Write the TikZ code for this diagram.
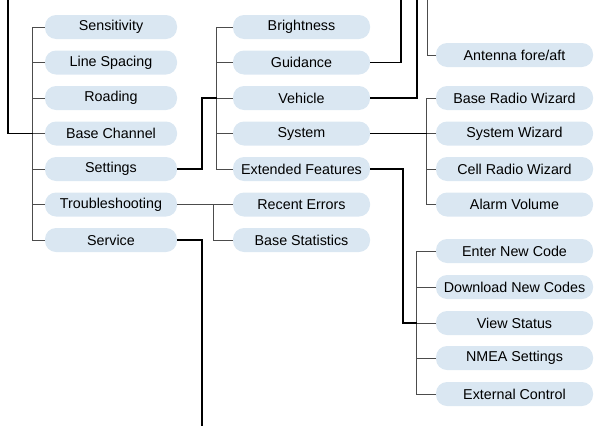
\documentclass[tikz,border=0pt]{standalone}
\usepackage{fontspec}
\setmainfont{Liberation Sans}
\usepackage{xcolor}
\usepackage{tikz}
\usetikzlibrary{positioning, calc}
\definecolor{itemblue}{RGB}{218,231,242}

\begin{document}
\begin{tikzpicture}[
  x=1pt, y=1pt,
  font=\fontsize{14.3}{16}\selectfont,
  item/.style={
    fill=itemblue,
    rounded corners=11pt,
    minimum height=24pt,
    inner sep=0pt,
    align=center
  },
  firstcol/.style={item, minimum width=132pt},
  secondcol/.style={item, minimum width=137pt},
  thirdcol/.style={item, minimum width=157pt},
  branch/.style={draw=black!70, line width=1pt},
  link/.style={draw=black, line width=1.6pt}
]
\useasboundingbox (0,0) rectangle (597,-426);

% First column of the menu.
\node[firstcol] (sens) at (111,-27) {Sensitivity};
\node[firstcol] (lsp) at (111,-62.5) {Line Spacing};
\node[firstcol] (road) at (111,-98) {Roading};
\node[firstcol] (bch) at (111,-133.5) {Base Channel};
\node[firstcol] (sett) at (111,-169) {Settings};
\node[firstcol] (trbl) at (111,-204.5) {Troubleshooting};
\node[firstcol] (serv) at (111,-240) {Service};

% Second column: settings and troubleshooting entries.
\node[secondcol] (bright) at (301.5,-27) {Brightness};
\node[secondcol] (guid) at (301.5,-62.5) {Guidance};
\node[secondcol] (veh) at (301.5,-98) {Vehicle};
\node[secondcol] (sys) at (301.5,-133.5) {System};
\node[secondcol] (ext) at (301.5,-169) {Extended Features};
\node[secondcol] (recent) at (301.5,-204.5) {Recent Errors};
\node[secondcol] (bstat) at (301.5,-240) {Base Statistics};

% Third column: vehicle and system entries.
\node[thirdcol] (ant) at (514.5,-55) {Antenna fore/aft};
\node[thirdcol] (brw) at (514.5,-98) {Base Radio Wizard};
\node[thirdcol] (sysw) at (514.5,-133.5) {System Wizard};
\node[thirdcol] (crw) at (514.5,-169) {Cell Radio Wizard};
\node[thirdcol] (alarm) at (514.5,-204.5) {Alarm Volume};

% Fourth group: extended features entries.
\node[thirdcol] (enter) at (514.5,-251) {Enter New Code};
\node[thirdcol] (dl) at (514.5,-287) {Download New Codes};
\node[thirdcol] (view) at (514.5,-323) {View Status};
\node[thirdcol] (nmea) at (514.5,-358) {NMEA Settings};
\node[thirdcol] (extc) at (514.5,-394) {External Control};

% Free ends at the picture edges.
\coordinate (topmain) at (8,0);
\coordinate (topguid) at (401,0);
\coordinate (topveh) at (417,0);
\coordinate (topant) at (427,0);
\coordinate (botserv) at (202,-426);

% Tree bars and stubs.
\draw[branch] (sens.west) -- ++(-12,0) |- (serv.west);
\draw[branch] (lsp.west) -- ++(-12,0);
\draw[branch] (road.west) -- ++(-12,0);
\draw[branch] (bch.west) -- ++(-12,0);
\draw[branch] (sett.west) -- ++(-12,0);
\draw[branch] (trbl.west) -- ++(-12,0);

\draw[branch] (bright.west) -- ++(-16,0) |- (ext.west);
\draw[branch] (guid.west) -- ++(-16,0);
\draw[branch] (veh.west) -- ++(-16,0);
\draw[branch] (sys.west) -- ++(-16,0);

\draw[branch] (trbl.east) -- (recent.west);
\draw[branch] ([xshift=-19pt]recent.west) |- (bstat.west);

\draw[branch] (topant) |- (ant.west);
\draw[branch] (brw.west) -- ++(-9,0) |- (alarm.west);
\draw[branch] (sysw.west) -- ++(-9,0);
\draw[branch] (crw.west) -- ++(-9,0);

\draw[branch] (enter.west) -- ++(-19,0) |- (extc.west);
\draw[branch] (dl.west) -- ++(-19,0);
\draw[branch] (view.west) -- ++(-19,0);
\draw[branch] (nmea.west) -- ++(-19,0);

% Links between the groups.
\draw[link] (topmain) |- ([xshift=-12pt]bch.west);
\draw[link] (sett.east) -- ++(25,0) |- ([xshift=-16pt]veh.west);
\draw[link] (serv.east) -| (botserv);
\draw[link] (guid.east) -| (topguid);
\draw[link] (veh.east) -| (topveh);
\draw[link] (sys.east) -- ([xshift=-9pt]sysw.west);
\draw[link] (ext.east) -- ++(33,0) |- ([xshift=-19pt]view.west);

\end{tikzpicture}
\end{document}
